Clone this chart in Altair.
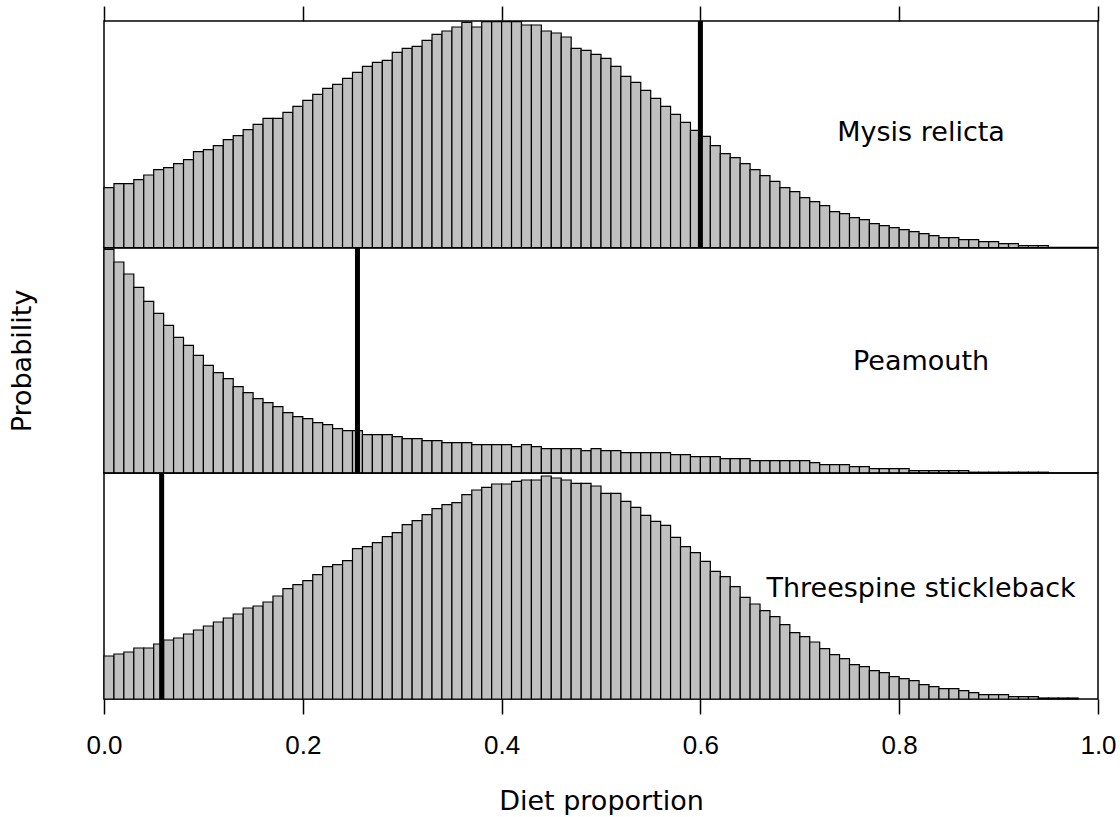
import altair as alt
import pandas as pd

# ---------------- data ----------------
bin_width = 0.01
tick_values = [0.0, 0.2, 0.4, 0.6, 0.8, 1.0]

species = ["Mysis relicta", "Peamouth", "Threespine stickleback"]
observed = [0.600, 0.255, 0.058]          # thick black vertical lines
label_x = 0.822
label_y = [106.5, 103.0, 102.3]
panel_top = [226.5, 225.0, 226.0]         # relative probability at panel top

mysis = [
    59.8, 63.8, 63.8, 67.8, 72.5, 77.8, 79.8, 83.8, 87.8, 95.8,
    97.8, 101.8, 107.8, 111.8, 117.8, 123.2, 129.2, 129.2, 135.2, 141.2,
    147.2, 153.2, 159.2, 163.2, 169.2, 175.2, 181.2, 185.2, 187.2, 195.2,
    199.2, 201.2, 207.2, 213.2, 216.5, 220.5, 225.2, 220.5, 225.8, 225.8,
    225.8, 225.8, 222.5, 222.5, 216.5, 214.5, 210.5, 199.2, 197.2, 193.2,
    189.2, 181.2, 171.2, 165.2, 157.2, 149.2, 141.2, 133.2, 125.2, 117.2,
    111.2, 101.8, 93.8, 89.8, 83.8, 77.8, 71.8, 66.1, 59.8, 55.8,
    49.8, 45.8, 41.8, 35.8, 33.8, 29.8, 27.8, 23.8, 21.8, 19.8,
    17.8, 15.8, 13.8, 11.8, 9.8, 9.8, 7.8, 7.8, 5.8, 5.8,
    3.8, 3.8, 1.8, 1.8, 1.8,
]

peamouth = [
    223.7, 211.0, 199.0, 185.7, 171.7, 159.7, 147.7, 135.7, 127.7, 117.7,
    107.7, 100.3, 94.3, 86.3, 80.3, 74.3, 70.3, 66.3, 60.3, 56.3,
    54.3, 50.3, 48.3, 44.3, 42.3, 42.3, 38.3, 38.3, 38.3, 36.3,
    34.3, 34.3, 32.3, 32.3, 30.3, 30.3, 30.3, 28.3, 28.3, 28.3,
    28.3, 26.3, 28.3, 26.3, 24.3, 24.3, 24.3, 24.3, 22.3, 24.3,
    22.3, 22.3, 20.3, 20.3, 20.3, 20.3, 20.3, 18.3, 18.3, 16.3,
    16.3, 16.3, 14.3, 14.3, 14.3, 12.3, 12.3, 12.3, 12.3, 12.3,
    12.3, 10.3, 8.3, 8.3, 8.3, 6.3, 6.3, 4.3, 4.3, 4.3,
    4.3, 2.3, 2.3, 2.3, 2.3, 2.3, 2.3, 0.8, 0.8, 0.8,
    0.8, 0.8, 0.8, 0.8, 0.8,
]

stickleback = [
    43.0, 45.0, 47.0, 51.0, 51.0, 55.0, 59.0, 61.0, 65.0, 69.0,
    73.0, 77.0, 81.0, 85.0, 91.0, 93.0, 97.0, 103.0, 110.3, 114.3,
    118.3, 124.3, 132.3, 134.3, 138.3, 150.3, 152.3, 156.3, 162.3, 166.3,
    174.3, 178.3, 184.3, 190.3, 194.3, 196.3, 204.3, 209.0, 211.6, 215.0,
    215.0, 217.6, 219.0, 219.0, 223.0, 221.0, 219.0, 215.6, 215.6, 213.0,
    205.6, 205.6, 197.6, 191.6, 183.6, 177.6, 173.6, 161.6, 152.3, 146.3,
    137.6, 127.6, 122.3, 112.3, 101.6, 95.0, 88.3, 82.3, 74.3, 66.3,
    62.3, 57.0, 50.3, 44.3, 40.3, 34.3, 32.3, 28.3, 26.3, 22.3,
    20.3, 18.3, 14.3, 12.3, 10.3, 10.3, 8.3, 6.3, 4.3, 4.3,
    4.3, 2.3, 2.3, 2.3, 1.0, 1.0, 1.0, 1.0,
]

series = [mysis, peamouth, stickleback]

# ---------------- styling ----------------
TITLE_FONT = "DejaVu Sans"
LABEL_FONT = "Liberation Sans"

top_axis = alt.Axis(
    orient="top", values=tick_values, labels=False, tickSize=15, tickWidth=1.5,
    tickColor="black", domain=False, grid=False, title=None,
)
bottom_axis = alt.Axis(
    orient="bottom", values=tick_values, format=".1f", tickSize=15, tickWidth=1.5,
    tickColor="black", domain=False, grid=False, labelFont=LABEL_FONT,
    labelFontSize=26, labelColor="black", labelPadding=18, labelFlush=False,
    title="Diet proportion", titleFont=TITLE_FONT, titleFontSize=27,
    titleFontWeight="normal", titleColor="black", titlePadding=30,
)
y_title_axis = alt.Axis(
    title="Probability", labels=False, ticks=False, domain=False, grid=False,
    titleFont=TITLE_FONT, titleFontSize=27, titleFontWeight="normal",
    titleColor="black", titlePadding=68,
)

x_axes = [top_axis, None, bottom_axis]
y_axes = [None, y_title_axis, None]


def panel(i):
    vals = series[i]
    df = pd.DataFrame({
        "start": [k * bin_width for k in range(len(vals))],
        "end": [(k + 1) * bin_width for k in range(len(vals))],
        "p": vals,
        "base": [0.0] * len(vals),
    })
    xs = alt.Scale(domain=[0, 1], nice=False, zero=False)
    ys = alt.Scale(domain=[0, panel_top[i]], nice=False)
    xax = x_axes[i]
    yax = y_axes[i]

    bars = alt.Chart(df).mark_bar(
        fill="#c0c0c0", stroke="black", strokeWidth=1.2
    ).encode(
        x=alt.X("start:Q", scale=xs, axis=xax),
        x2="end:Q",
        y=alt.Y("p:Q", scale=ys, axis=yax),
        y2="base:Q",
    )
    rule = alt.Chart(pd.DataFrame({"start": [observed[i]]})).mark_rule(
        color="black", strokeWidth=5
    ).encode(x=alt.X("start:Q", scale=xs, axis=xax))
    text = alt.Chart(pd.DataFrame({
        "start": [label_x], "p": [label_y[i]], "name": [species[i]]
    })).mark_text(
        font=TITLE_FONT, fontSize=27, align="center", baseline="alphabetic",
        color="black",
    ).encode(
        x=alt.X("start:Q", scale=xs, axis=xax),
        y=alt.Y("p:Q", scale=ys, axis=yax),
        text="name:N",
    )
    return alt.layer(bars, rule, text).properties(width=994, height=panel_top[i])


chart = alt.vconcat(
    panel(0), panel(1), panel(2), spacing=0, bounds="flush"
).properties(
    padding={"left": 7, "top": 4, "right": 0, "bottom": 0},
    background="white",
).configure_view(stroke="black", strokeWidth=1.5)

chart.save("out.html", embed_options={"renderer": "svg", "actions": False})
